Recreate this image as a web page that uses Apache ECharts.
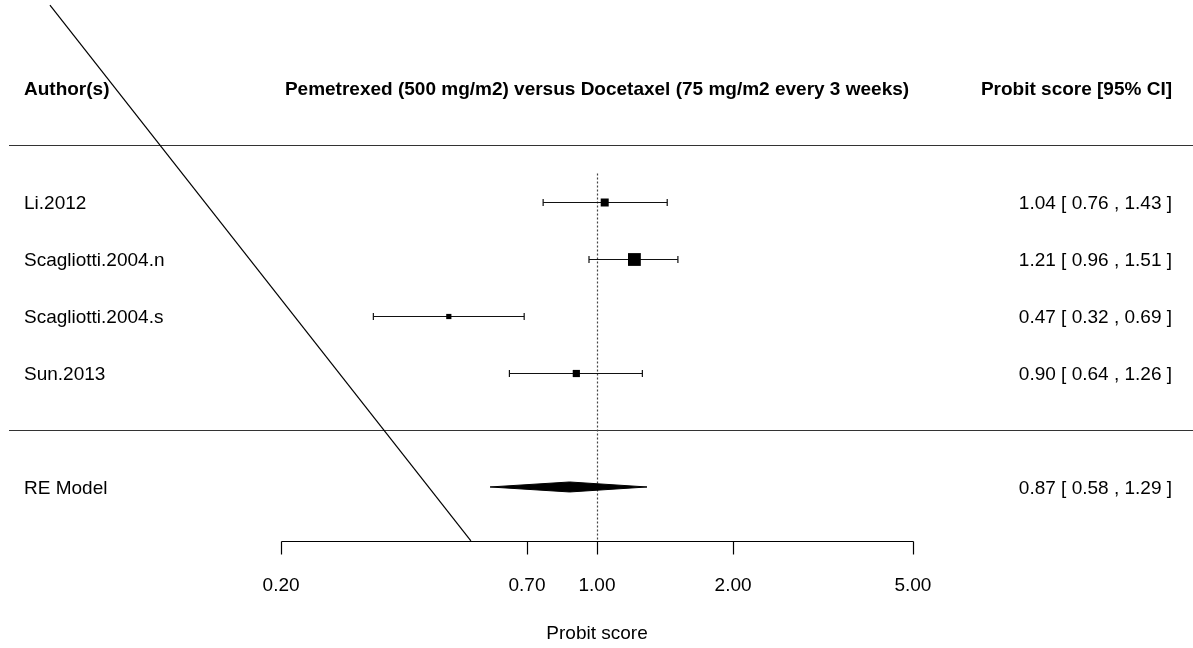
<!DOCTYPE html>
<html>
<head>
<meta charset="utf-8">
<script src="https://cdn.jsdelivr.net/npm/echarts@6/dist/echarts.min.js"></script>
<style>html,body{margin:0;padding:0;background:#fff}#chart{width:1193px;height:648px}</style>
</head>
<body>
<div id="chart"></div>
<script>
// ---- data ----
const studies = ['Li.2012', 'Scagliotti.2004.n', 'Scagliotti.2004.s', 'Sun.2013'];
const estimates = [1.04, 1.21, 0.47, 0.90];
const lowerCI = [0.76, 0.96, 0.32, 0.64];
const upperCI = [1.43, 1.51, 0.69, 1.26];
const weights = [20, 32, 13, 18];
const summaryLabel = 'RE Model';
const summary = [0.87, 0.58, 1.29]; // estimate, lower, upper
const tickValues = [0.2, 0.7, 1.0, 2.0, 5.0];
const tickLabels = ['0.20', '0.70', '1.00', '2.00', '5.00'];
const headers = ['Author(s)', 'Pemetrexed (500 mg/m2) versus Docetaxel (75 mg/m2 every 3 weeks)', 'Probit score [95% CI]'];
const axisTitle = 'Probit score';
const refValue = 1.0;
const diagonal = [[0.0616, 7.456], [0.526, -1.947]];

// ---- layout ----
const studyRows = [4, 3, 2, 1];
const summaryRow = -1, headerRow = 6, axisRow = -2, sepRows = [5, 0];
const FONT = '19px "Liberation Sans", Arial, sans-serif';
const BFONT = 'bold 19px "Liberation Sans", Arial, sans-serif';
const LEFT_X = 24, RIGHT_X = 1172, TXT_DY = 2;
const fmt = v => v.toFixed(2);

const chart = echarts.init(document.getElementById('chart'), null, {renderer: 'canvas'});

const option = {
  animation: false,
  backgroundColor: '#fff',
  grid: {left: 0, right: 0, top: 0, bottom: 0},
  xAxis: {type: 'log', min: 0.04776, max: 20.83, show: false},
  yAxis: {type: 'value', min: -3.825, max: 7.544, show: false},
  series: [
    // separator lines and headers
    {
      type: 'custom', silent: true,
      data: [0],
      renderItem: function (params, api) {
        const children = [];
        sepRows.forEach(r => {
          const y = Math.round(api.coord([1, r])[1]) + 0.5;
          children.push({type: 'line', shape: {x1: 9, y1: y, x2: 1193, y2: y}, style: {stroke: '#333', lineWidth: 1.2}});
        });
        const hy = api.coord([1, headerRow])[1] + TXT_DY;
        children.push({type: 'text', style: {text: headers[0], x: LEFT_X, y: hy, font: BFONT, fill: '#000', align: 'left', verticalAlign: 'middle'}});
        children.push({type: 'text', style: {text: headers[1], x: api.coord([1, headerRow])[0], y: hy, font: BFONT, fill: '#000', align: 'center', verticalAlign: 'middle'}});
        children.push({type: 'text', style: {text: headers[2], x: RIGHT_X, y: hy, font: BFONT, fill: '#000', align: 'right', verticalAlign: 'middle'}});
        return {type: 'group', children: children};
      }
    },
    // reference line
    {
      type: 'custom', silent: true,
      data: [refValue],
      renderItem: function (params, api) {
        const p1 = api.coord([api.value(0), 4.5]);
        const p2 = api.coord([api.value(0), axisRow]);
        const x = Math.round(p1[0]) + 0.5;
        return {type: 'line', shape: {x1: x, y1: p1[1], x2: x, y2: p2[1] - 3}, style: {stroke: '#444', lineWidth: 1.2, lineDash: [2, 2]}};
      }
    },
    // studies
    {
      type: 'custom', silent: true,
      data: studies.map((s, i) => [estimates[i], lowerCI[i], upperCI[i], studyRows[i], weights[i]]),
      renderItem: function (params, api) {
        const i = params.dataIndex;
        const est = api.value(0), lo = api.value(1), hi = api.value(2), row = api.value(3), w = api.value(4);
        const pe = api.coord([est, row]);
        const pl = api.coord([lo, row]);
        const ph = api.coord([hi, row]);
        const y = Math.round(pe[1]) + 0.5;
        const sz = Math.max(5, w * 0.4);
        const capH = 3.5;
        return {type: 'group', children: [
          {type: 'line', shape: {x1: pl[0], y1: y, x2: ph[0], y2: y}, style: {stroke: '#111', lineWidth: 1.2}},
          {type: 'line', shape: {x1: pl[0], y1: y - capH, x2: pl[0], y2: y + capH}, style: {stroke: '#111', lineWidth: 1.2}},
          {type: 'line', shape: {x1: ph[0], y1: y - capH, x2: ph[0], y2: y + capH}, style: {stroke: '#111', lineWidth: 1.2}},
          {type: 'rect', shape: {x: pe[0] - sz / 2, y: y - sz / 2, width: sz, height: sz}, style: {fill: '#000'}},
          {type: 'text', style: {text: studies[i], x: LEFT_X, y: pe[1] + TXT_DY, font: FONT, fill: '#000', align: 'left', verticalAlign: 'middle'}},
          {type: 'text', style: {text: fmt(est) + ' [ ' + fmt(lo) + ' , ' + fmt(hi) + ' ]', x: RIGHT_X, y: pe[1] + TXT_DY, font: FONT, fill: '#000', align: 'right', verticalAlign: 'middle'}}
        ]};
      }
    },
    // summary diamond
    {
      type: 'custom', silent: true,
      data: [[summary[0], summary[1], summary[2], summaryRow]],
      renderItem: function (params, api) {
        const row = api.value(3);
        const pe = api.coord([api.value(0), row]);
        const pl = api.coord([api.value(1), row]);
        const ph = api.coord([api.value(2), row]);
        const h = 5;
        return {type: 'group', children: [
          {type: 'polygon', shape: {points: [[pl[0], pe[1]], [pe[0], pe[1] - h], [ph[0], pe[1]], [pe[0], pe[1] + h]]}, style: {fill: '#000', stroke: '#000', lineWidth: 1}},
          {type: 'text', style: {text: summaryLabel, x: LEFT_X, y: pe[1] + TXT_DY, font: FONT, fill: '#000', align: 'left', verticalAlign: 'middle'}},
          {type: 'text', style: {text: fmt(api.value(0)) + ' [ ' + fmt(api.value(1)) + ' , ' + fmt(api.value(2)) + ' ]', x: RIGHT_X, y: pe[1] + TXT_DY, font: FONT, fill: '#000', align: 'right', verticalAlign: 'middle'}}
        ]};
      }
    },
    // axis
    {
      type: 'custom', silent: true,
      data: tickValues.map((v, i) => [v, i]),
      renderItem: function (params, api) {
        const i = params.dataIndex;
        const p = api.coord([api.value(0), axisRow]);
        const y = Math.round(p[1]) - 2.5;
        const x = Math.round(p[0]) + 0.5;
        const children = [
          {type: 'line', shape: {x1: x, y1: y, x2: x, y2: y + 13}, style: {stroke: '#000', lineWidth: 1.2}},
          {type: 'text', style: {text: tickLabels[i], x: p[0], y: p[1] + 42, font: FONT, fill: '#000', align: 'center', verticalAlign: 'middle'}}
        ];
        if (i === 0) {
          const pe = api.coord([tickValues[tickValues.length - 1], axisRow]);
          children.push({type: 'line', shape: {x1: x, y1: y, x2: Math.round(pe[0]) + 0.5, y2: y}, style: {stroke: '#000', lineWidth: 1.2}});
          const pc = api.coord([refValue, axisRow]);
          children.push({type: 'text', style: {text: axisTitle, x: pc[0], y: p[1] + 90, font: FONT, fill: '#000', align: 'center', verticalAlign: 'middle'}});
        }
        return {type: 'group', children: children};
      }
    },
    // diagonal line
    {
      type: 'line', silent: true, symbol: 'none',
      data: diagonal,
      lineStyle: {color: '#000', width: 1.2}
    }
  ]
};
chart.setOption(option);
</script>
</body>
</html>
